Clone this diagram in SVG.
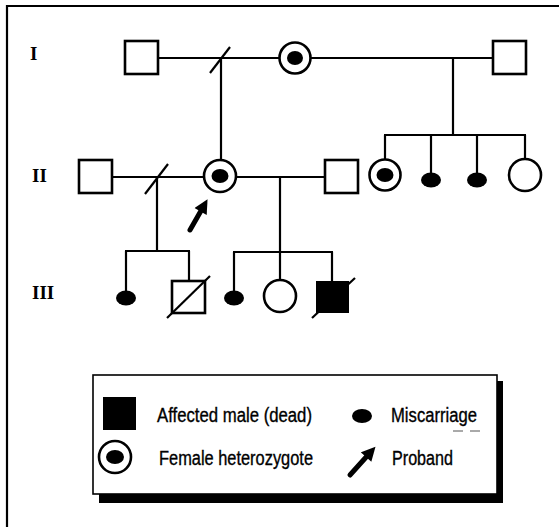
<svg xmlns="http://www.w3.org/2000/svg" width="559" height="527" viewBox="0 0 559 527">
<style>
.ln{stroke:#000;stroke-width:2.2;fill:none}
.sym{stroke:#000;stroke-width:2.6;fill:#fff}
.fill{fill:#000}
.gen{font-family:"Liberation Serif",serif;font-weight:bold;font-size:19px;fill:#000}
.lg{font-family:"Liberation Sans",Arial,sans-serif;font-size:20px;fill:#000;stroke:#000;stroke-width:0.35}
.arr{stroke:#000;stroke-width:5;fill:none;stroke-linecap:round}
</style>
<defs>
<marker id="ah" viewBox="0 0 10 10" refX="2" refY="5" markerWidth="3" markerHeight="2.8" orient="auto" markerUnits="strokeWidth">
<path d="M0,0 L10,5 L0,10 z" fill="#000"/>
</marker>
</defs>
<rect width="559" height="527" fill="#fff"/>
<path d="M7,527 V6 H559" class="ln" stroke-width="1.8"/>

<g id="labels">
<text class="gen" x="30" y="60">I</text>
<text class="gen" x="32" y="182">II</text>
<text class="gen" x="32" y="299">III</text>
</g>

<g id="connectors">
<line class="ln" x1="158" y1="58" x2="279.5" y2="58"/>
<line class="ln" x1="310.5" y1="58" x2="493" y2="58"/>
<line class="ln" x1="210" y1="73" x2="230" y2="47"/>
<line class="ln" x1="221" y1="58" x2="221" y2="160"/>
<line class="ln" x1="453" y1="58" x2="453" y2="135"/>
<line class="ln" x1="384" y1="135" x2="526" y2="135"/>
<line class="ln" x1="385" y1="135" x2="385" y2="160"/>
<line class="ln" x1="431" y1="135" x2="431" y2="173"/>
<line class="ln" x1="477" y1="135" x2="477" y2="173"/>
<line class="ln" x1="525" y1="135" x2="525" y2="159"/>
<line class="ln" x1="112" y1="177" x2="203.5" y2="177"/>
<line class="ln" x1="145" y1="194" x2="168" y2="164"/>
<line class="ln" x1="157" y1="177" x2="157" y2="251"/>
<line class="ln" x1="236.5" y1="177" x2="325" y2="177"/>
<line class="ln" x1="280" y1="177" x2="280" y2="252"/>
<line class="ln" x1="125" y1="251" x2="190" y2="251"/>
<line class="ln" x1="126" y1="251" x2="126" y2="291"/>
<line class="ln" x1="189" y1="251" x2="189" y2="281"/>
<line class="ln" x1="233" y1="252" x2="333" y2="252"/>
<line class="ln" x1="234" y1="252" x2="234" y2="291"/>
<line class="ln" x1="280" y1="252" x2="280" y2="280"/>
<line class="ln" x1="332" y1="252" x2="332" y2="281"/>
<line class="arr" x1="190" y1="230" x2="202" y2="209" marker-end="url(#ah)"/>
</g>

<g id="I-1"><rect class="sym" x="125" y="41" width="33" height="33"/></g>
<g id="I-2"><circle class="sym" cx="295" cy="58" r="15.5"/><ellipse class="fill" cx="295" cy="58" rx="8" ry="7"/></g>
<g id="I-3"><rect class="sym" x="493" y="41" width="33" height="33"/></g>

<g id="II-1"><rect class="sym" x="79" y="160" width="33" height="33"/></g>
<g id="II-2"><circle class="sym" cx="220" cy="176" r="16"/><ellipse class="fill" cx="220" cy="176" rx="8.5" ry="7"/></g>
<g id="II-3"><rect class="sym" x="325" y="160" width="33" height="33"/></g>
<g id="II-4"><circle class="sym" cx="385" cy="175" r="15.5"/><ellipse class="fill" cx="385" cy="175" rx="8.5" ry="7"/></g>
<g id="II-5"><ellipse class="fill" cx="431" cy="180" rx="10" ry="7.5"/></g>
<g id="II-6"><ellipse class="fill" cx="477" cy="180" rx="10" ry="7.5"/></g>
<g id="II-7"><circle class="sym" cx="525" cy="175" r="16"/></g>

<g id="III-1"><ellipse class="fill" cx="126" cy="298" rx="10" ry="7.5"/></g>
<g id="III-2"><rect class="sym" x="172" y="281" width="33" height="32"/><line class="ln" x1="167" y1="318" x2="210" y2="276"/></g>
<g id="III-3"><ellipse class="fill" cx="234" cy="298" rx="10" ry="7.5"/></g>
<g id="III-4"><circle class="sym" cx="280" cy="296" r="16"/></g>
<g id="III-5"><rect x="316" y="281" width="33" height="32" fill="#000"/><line class="ln" x1="312" y1="318" x2="355" y2="278"/></g>

<g id="legend">
<rect x="99" y="381" width="404" height="122" fill="#000"/>
<rect x="93" y="375" width="404" height="119" fill="#fff" stroke="#000" stroke-width="1.6"/>
<rect x="103" y="397" width="33" height="33" fill="#000"/>
<text class="lg" x="157" y="422" textLength="155" lengthAdjust="spacingAndGlyphs">Affected male (dead)</text>
<ellipse class="fill" cx="362" cy="416" rx="10" ry="7"/>
<text class="lg" x="391" y="422" textLength="86" lengthAdjust="spacingAndGlyphs">Miscarriage</text>
<line x1="453" y1="431" x2="463" y2="431" stroke="#555" stroke-width="1"/>
<line x1="470" y1="431" x2="480" y2="431" stroke="#555" stroke-width="1"/>
<circle class="sym" cx="115" cy="457" r="16"/>
<ellipse class="fill" cx="115" cy="457" rx="9" ry="7"/>
<text class="lg" x="159" y="465" textLength="154" lengthAdjust="spacingAndGlyphs">Female heterozygote</text>
<line class="arr" x1="350" y1="475" x2="368" y2="455" marker-end="url(#ah)"/>
<text class="lg" x="392" y="465" textLength="61" lengthAdjust="spacingAndGlyphs">Proband</text>
</g>
</svg>
